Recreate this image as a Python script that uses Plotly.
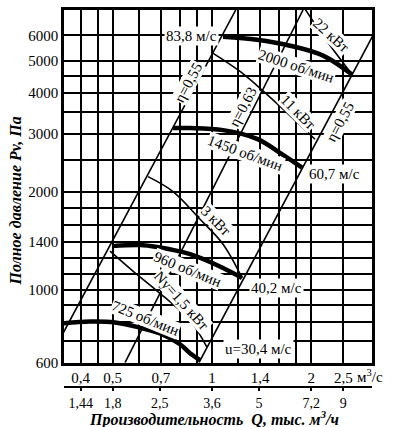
import math
import plotly.graph_objects as go

# ---- axes / ticks ----
q_ticks = [0.4, 0.5, 0.7, 1, 1.4, 2, 2.5]
q_ticktext = ["0,4", "0,5", "0,7", "1", "1,4", "2", "2,5"]
q_minor = [0.45, 0.6, 0.8, 0.9, 1.2, 1.6, 1.8]
p_ticks = [600, 1000, 1400, 2000, 3000, 4000, 5000, 6000]
p_minor = [700, 800, 900, 1120, 1250, 1580, 1780, 2500, 3500, 4500]
q2_ticks = [1.44, 1.8, 2.5, 3.6, 5, 7.2, 9]
q2_ticktext = ["1,44", "1,8", "2,5", "3,6", "5", "7,2", "9"]

# ---- fan curves (Q m3/s, P Pa) ----
rpm725_q = [0.354, 0.427, 0.508, 0.605, 0.696, 0.80, 0.858, 0.92]
rpm725_p = [791, 801, 796, 768, 737, 683, 641, 611]
rpm960_q = [0.498, 0.605, 0.681, 0.858, 1.080, 1.233]
rpm960_p = [1362, 1372, 1353, 1287, 1168, 1089]
rpm1450_q = [0.762, 0.858, 1.080, 1.369, 1.641, 1.874]
rpm1450_p = [3124, 3124, 3080, 2896, 2589, 2367]
rpm2000_q = [1.080, 1.369, 1.723, 2.170, 2.656]
rpm2000_p = [5938, 5816, 5577, 5201, 4553]

# ---- efficiency lines ----
eta55L_q = [0.3535, 1.18]
eta55L_p = [737, 7170]
eta63_q = [0.545, 1.887]
eta63_p = [600, 7170]
eta55R_q = [0.913, 3.07]
eta55R_p = [600, 5980]

# ---- power lines ----
n15_q = [0.491, 0.576, 0.681, 0.858, 0.966]
n15_p = [1315, 1143, 995, 807, 668]
n3_q = [0.640, 0.762, 0.920, 1.080, 1.233]
n3_p = [2221, 1999, 1645, 1380, 1089]
n11_q = [1.0, 1.216, 1.427, 1.723, 2.052]
n11_p = [5311, 4652, 4061, 3410, 2888]
n22_q = [1.90, 2.170, 2.656]
n22_p = [7300, 5979, 4553]

# ---- labels ----
curve_labels = ["2000 об/мин", "1450 об/мин", "960 об/мин", "725 об/мин",
                "22 кВт", "11 кВт", "3 кВт", "Nу=1,5 кВт",
                "η=0,55", "η=0,63", "η=0,55"]
curve_label_q = [1.797, 1.259, 0.840, 0.627, 2.294, 1.822, 1.028, 0.811, 0.846, 1.242, 2.443]
curve_label_p = [4848, 2627, 1160, 824, 6021, 3494, 1622, 928, 4300, 3618, 3258]
curve_label_ang = [18, 20, 22, 22, 42, 45, 45, 48, -62, -62, -62]

speed_labels = ["83,8 м/с", "60,7 м/с", "40,2 м/с", "u=30,4 м/с"]
speed_q = [0.864, 2.343, 1.563, 1.379]
speed_p = [5979, 2269, 1016, 660]

FONT = "Liberation Serif"
fig = go.Figure()

def add_line(q, p, width, shape="linear"):
    fig.add_trace(go.Scatter(x=q, y=p, mode="lines", hoverinfo="skip", showlegend=False,
                             line=dict(color="black", width=width, shape=shape),
                             xaxis="x", yaxis="y"))

for q, p in [(eta55L_q, eta55L_p), (eta63_q, eta63_p), (eta55R_q, eta55R_p)]:
    add_line(q, p, 1.6)
for q, p in [(n15_q, n15_p), (n3_q, n3_p), (n11_q, n11_p), (n22_q, n22_p)]:
    add_line(q, p, 1.6, "spline")
for q, p in [(rpm725_q, rpm725_p), (rpm960_q, rpm960_p), (rpm1450_q, rpm1450_p), (rpm2000_q, rpm2000_p)]:
    add_line(q, p, 4.5, "spline")

# dummy trace for second x axis
fig.add_trace(go.Scatter(x=[q2_ticks[0], q2_ticks[-1]], y=[p_ticks[0], p_ticks[0]], mode="lines",
                         line=dict(width=0), hoverinfo="skip", showlegend=False,
                         xaxis="x2", yaxis="y"))

xr = [-0.4485, 0.4848]
yr = [math.log10(600), math.log10(600) + 355.5 / 330]
k = math.log10(3.6)

annotations = []
for t, q, p, a in zip(curve_labels, curve_label_q, curve_label_p, curve_label_ang):
    annotations.append(dict(x=math.log10(q), y=math.log10(p), xref="x", yref="y", text=t,
                            textangle=a, showarrow=False, bgcolor="white", borderpad=0,
                            xanchor="center", yanchor="middle",
                            font=dict(family=FONT, size=15, color="black")))
for t, q, p in zip(speed_labels, speed_q, speed_p):
    annotations.append(dict(x=math.log10(q), y=math.log10(p), xref="x", yref="y", text=t,
                            showarrow=False, bgcolor="white", borderpad=1,
                            xanchor="center", yanchor="middle",
                            font=dict(family=FONT, size=15, color="black")))
annotations.append(dict(x=math.log10(q_ticks[-1]), y=0.028, xref="x", yref="paper",
                        text="м<sup>3</sup>/с", xanchor="left", yanchor="middle", xshift=12,
                        showarrow=False, font=dict(family=FONT, size=15, color="black")))
annotations.append(dict(x=-0.159, y=0.492, xref="paper", yref="paper",
                        xanchor="center", yanchor="middle",
                        text="<b><i>Полное давление Pv, Па</i></b>", textangle=-90, showarrow=False,
                        font=dict(family=FONT, size=16, color="black")))
annotations.append(dict(x=0.487, y=-0.084, xref="paper", yref="paper",
                        xanchor="center", yanchor="middle",
                        text="<b><i>Производительность  Q, тыс. м<sup>3</sup>/ч</i></b>", showarrow=False,
                        font=dict(family=FONT, size=16, color="black")))

tickfont = dict(family=FONT, size=15, color="black")
fig.update_layout(
    width=397, height=427,
    margin=dict(l=64, r=25, t=7, b=40, pad=0),
    plot_bgcolor="white", paper_bgcolor="white",
    showlegend=False,
    xaxis=dict(type="log", range=xr, tickvals=q_ticks, ticktext=q_ticktext, anchor="y",
               showgrid=True, gridcolor="black", gridwidth=2,
               minor=dict(tickvals=q_minor, showgrid=True, gridcolor="black", gridwidth=1.8, ticks=""),
               showline=True, mirror=True, linecolor="black", linewidth=2.5,
               ticks="", zeroline=False, tickfont=tickfont),
    yaxis=dict(type="log", range=yr, domain=[0.0645, 1], tickvals=p_ticks,
               ticktext=[str(v) for v in p_ticks],
               showgrid=True, gridcolor="black", gridwidth=2,
               minor=dict(tickvals=p_minor, showgrid=True, gridcolor="black", gridwidth=1.8, ticks=""),
               showline=True, mirror=True, linecolor="black", linewidth=2.5,
               ticks="", zeroline=False, tickfont=tickfont),
    xaxis2=dict(type="log", range=[xr[0] + k, xr[1] + k], overlaying="x", anchor="free", position=0,
                side="bottom", tickvals=q2_ticks, ticktext=q2_ticktext, showgrid=False,
                showline=True, linecolor="black", linewidth=2,
                ticks="outside", ticklen=3, tickwidth=2, tickcolor="black",
                zeroline=False, tickfont=dict(family=FONT, size=14, color="black")),
    annotations=annotations,
)

fig.write_html("out.html", config={"displayModeBar": False},
               post_script="document.body.style.margin='0';")
